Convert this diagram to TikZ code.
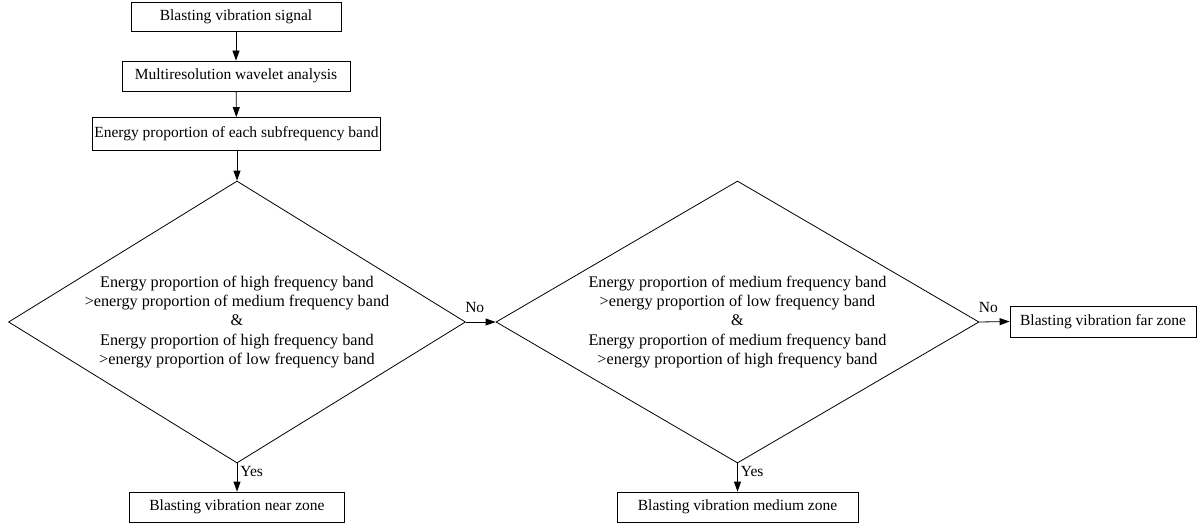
\documentclass[tikz,border=0pt]{standalone}
\usepackage{fontspec}
\setmainfont{Liberation Serif}
\usetikzlibrary{shapes.geometric,arrows.meta}
\begin{document}
\begin{tikzpicture}[x=1pt,y=-1pt,
  every node/.style={font=\fontsize{15.5}{19.3}\selectfont, text=black},
  box/.style={draw, line width=0.8pt, inner sep=0pt, align=center},
  dec/.style={draw, diamond, line width=0.8pt, inner sep=0pt, align=center, aspect=1.65,
    font=\fontsize{16.2}{19.2}\selectfont},
  arr/.style={line width=0.8pt, -{Triangle[length=10pt,width=7pt]}},
  lbl/.style={inner sep=1pt}]
\useasboundingbox (0,0) rectangle (1198,527);
\node[box, minimum width=210pt, minimum height=29pt] (b1) at (236,16.5) {Blasting vibration signal};
\node[box, minimum width=228pt, minimum height=30pt] (b2) at (236,76) {Multiresolution wavelet analysis};
\node[box, minimum width=288pt, minimum height=33pt] (b3) at (236.5,134) {Energy proportion of each subfrequency band};
\node[dec, minimum width=457pt, minimum height=282pt] (d1) at (237,322) {Energy proportion of high frequency band\\ >energy proportion of medium frequency band\\ \&\\ Energy proportion of high frequency band\\ >energy proportion of low frequency band};
\node[dec, minimum width=483pt, minimum height=282pt] (d2) at (737.5,322) {Energy proportion of medium frequency band\\ >energy proportion of low frequency band\\ \&\\ Energy proportion of medium frequency band\\ >energy proportion of high frequency band};
\node[box, minimum width=215pt, minimum height=30pt] (near) at (237,507) {Blasting vibration near zone};
\node[box, minimum width=241pt, minimum height=30pt] (med) at (737.5,507) {Blasting vibration medium zone};
\node[box, minimum width=186pt, minimum height=31pt] (far) at (1103,321.5) {Blasting vibration far zone};
\draw[arr] (b1) -- (b2);
\draw[arr] (b2) -- (b3);
\draw[arr] (b3.south -| d1.north) -- (d1.north);
\draw[arr] (d1.south) -- (near.north -| d1.south) node[lbl, pos=0.05, anchor=north west, xshift=2pt] (y1) {Yes};
\draw[arr] (d2.south) -- (med.north -| d2.south) node[lbl, pos=0.05, anchor=north west, xshift=2pt] (y2) {Yes};
\draw[arr] (d1.east) -- (d2.west) node[lbl, pos=0, anchor=south west, yshift=8pt, xshift=-2pt] (n1) {No};
\draw[arr] (d2.east) -- (far.west) node[lbl, pos=0, anchor=south west, yshift=8pt, xshift=-2pt] (n2) {No};
\end{tikzpicture}
\end{document}
